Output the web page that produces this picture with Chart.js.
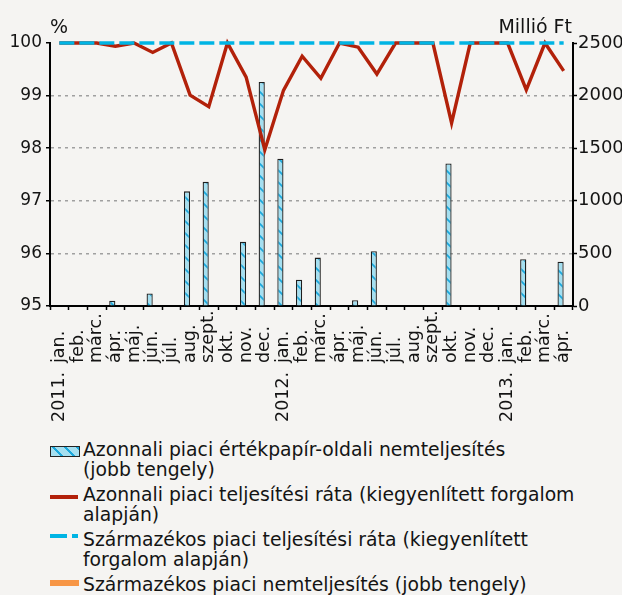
<!DOCTYPE html>
<html>
<head>
<meta charset="utf-8">
<script src="https://cdn.jsdelivr.net/npm/chart.js@4/dist/chart.umd.min.js"></script>
<style>
  html, body { margin: 0; padding: 0; background: #f5f4f2; }
  #wrap { position: relative; width: 622px; height: 595px; background: #f5f4f2; overflow: hidden; }
  #c { position: absolute; left: 0; top: 0; }
  .lg { position: absolute; left: 83px; font-family: "DejaVu Sans", sans-serif; font-size: 18.8px; line-height: 20px; color: #141414; white-space: nowrap; }
  .sw { position: absolute; }
</style>
</head>
<body>
<div id="wrap">
  <canvas id="c" width="622" height="435"></canvas>
  <div class="sw" style="left:50px;top:446px;width:28px;height:9px;border:1.5px solid #222;background:repeating-linear-gradient(45deg,#a5dff0 0px,#a5dff0 7px,#1ba8dc 7px,#1ba8dc 8.5px);"></div>
  <div class="lg" style="top:440px;">Azonnali piaci értékpapír-oldali nemteljesítés<br>(jobb tengely)</div>
  <div class="sw" style="left:50px;top:495px;width:28px;height:3.5px;background:#b2210a;"></div>
  <div class="lg" style="top:485px;">Azonnali piaci teljesítési ráta (kiegyenlített forgalom<br>alapján)</div>
  <div class="sw" style="left:50px;top:534px;width:17px;height:4px;background:#00b4e4;"></div>
  <div class="sw" style="left:72px;top:534px;width:6px;height:4px;background:#00b4e4;"></div>
  <div class="lg" style="top:530px;">Származékos piaci teljesítési ráta (kiegyenlített<br>forgalom alapján)</div>
  <div class="sw" style="left:50px;top:580px;width:29px;height:5.5px;background:#f79646;"></div>
  <div class="lg" style="top:575px;">Származékos piaci nemteljesítés (jobb tengely)</div>
</div>
<script>
// ---- data ----
const monthLabels = ['jan.','feb.','márc.','ápr.','máj.','jún.','júl.','aug.','szept.','okt.','nov.','dec.',
                     'jan.','feb.','márc.','ápr.','máj.','jún.','júl.','aug.','szept.','okt.','nov.','dec.',
                     'jan.','feb.','márc.','ápr.'];
const yearLabels = ['2011.','','','','','','','','','','','',
                    '2012.','','','','','','','','','','','',
                    '2013.','','',''];
// Azonnali piaci értékpapír-oldali nemteljesítés (millió Ft, jobb tengely)
const spotFails = [0,0,0,50,0,120,0,1090,1180,0,610,2130,
                   1400,250,460,0,55,520,0,0,0,1355,0,0,
                   0,445,0,420];
// Származékos piaci nemteljesítés (millió Ft, jobb tengely)
const derivFails = [0,0,0,0,0,0,0,0,0,0,0,0,
                    0,0,0,0,0,0,0,0,0,0,0,0,
                    0,0,0,0];
// Azonnali piaci teljesítési ráta (%)
const spotRate = [100,100,100,99.94,100,99.82,100,99.01,98.79,100,99.35,97.97,
                  99.1,99.75,99.33,100,99.92,99.41,100,100,100,98.48,100,100,
                  100,99.11,100,99.47];
// Származékos piaci teljesítési ráta (%)
const derivRate = [100,100,100,100,100,100,100,100,100,100,100,100,
                   100,100,100,100,100,100,100,100,100,100,100,100,
                   100,100,100,100];
const leftTicks = [95,96,97,98,99,100];
const rightTicks = [0,500,1000,1500,2000,2500];

const FONT = '"DejaVu Sans", sans-serif';
Chart.defaults.font.family = FONT;
Chart.defaults.color = '#141414';

// hatch pattern for bars
function makeHatch() {
  const t = document.createElement('canvas');
  t.width = 12; t.height = 12;
  const g = t.getContext('2d');
  g.fillStyle = '#a5dff0';
  g.fillRect(0, 0, 12, 12);
  g.strokeStyle = '#1ba8dc';
  g.lineWidth = 1.7;
  g.beginPath();
  g.moveTo(-2, -2); g.lineTo(14, 14);
  g.moveTo(10, -2); g.lineTo(14, 2);
  g.moveTo(-2, 10); g.lineTo(2, 14);
  g.stroke();
  return document.getElementById('c').getContext('2d').createPattern(t, 'repeat');
}

const textPlugin = {
  id: 'textPlugin',
  afterDraw(chart) {
    const ctx = chart.ctx;
    const xs = chart.scales.x;
    const bottom = chart.chartArea.bottom;
    ctx.save();
    ctx.fillStyle = '#141414';
    ctx.textBaseline = 'alphabetic';
    ctx.textAlign = 'left';
    ctx.font = '17.5px ' + FONT;
    monthLabels.forEach((m, i) => {
      const x = xs.getPixelForValue(i);
      ctx.save();
      ctx.translate(x + 4.5, bottom + 57);
      ctx.rotate(-Math.PI / 2);
      ctx.fillText(m, 0, 0);
      ctx.restore();
      if (yearLabels[i]) {
        ctx.save();
        ctx.translate(x + 4.5, bottom + 116);
        ctx.rotate(-Math.PI / 2);
        ctx.fillText(yearLabels[i], 0, 0);
        ctx.restore();
      }
    });
    ctx.font = '19px ' + FONT;
    ctx.textAlign = 'left';
    ctx.fillText('%', chart.chartArea.left, 33);
    ctx.textAlign = 'right';
    ctx.fillText('Millió Ft', chart.chartArea.right - 1, 33);
    ctx.restore();
  }
};

new Chart(document.getElementById('c'), {
  type: 'bar',
  data: {
    labels: monthLabels,
    datasets: [
      {
        type: 'line', label: 'Származékos piaci teljesítési ráta (kiegyenlített forgalom alapján)',
        data: derivRate, yAxisID: 'y', borderColor: '#00b4e4', borderWidth: 3.3,
        borderDash: [15, 5], pointRadius: 0, tension: 0, order: 0, clip: 6
      },
      {
        type: 'line', label: 'Azonnali piaci teljesítési ráta (kiegyenlített forgalom alapján)',
        data: spotRate, yAxisID: 'y', borderColor: '#b2210a', borderWidth: 3.4,
        pointRadius: 0, tension: 0, order: 1, clip: 6, borderJoinStyle: 'miter'
      },
      {
        label: 'Azonnali piaci értékpapír-oldali nemteljesítés (jobb tengely)',
        data: spotFails, yAxisID: 'y2', backgroundColor: makeHatch(),
        borderColor: '#1e1e1e', borderWidth: 1.3, order: 2,
        categoryPercentage: 0.66, barPercentage: 1.0
      },
      {
        label: 'Származékos piaci nemteljesítés (jobb tengely)',
        data: derivFails, yAxisID: 'y2', backgroundColor: '#f79646',
        borderWidth: 0, order: 3,
        categoryPercentage: 0.66, barPercentage: 1.0
      }
    ]
  },
  options: {
    responsive: false,
    animation: false,
    layout: { padding: { top: 43, left: 0, right: 0, bottom: 0 } },
    plugins: { legend: { display: false }, tooltip: { enabled: false } },
    scales: {
      x: {
        type: 'category', offset: true,
        grid: { offset: true, drawOnChartArea: false, drawTicks: true, tickLength: 4, tickColor: '#000', tickWidth: 1.5 },
        border: { display: true, color: '#000', width: 2 },
        ticks: { display: false },
        afterFit(s) { s.height = 129; }
      },
      y: {
        position: 'left', min: 95, max: 100,
        afterBuildTicks(s) { s.ticks = leftTicks.map(v => ({ value: v })); },
        ticks: { font: { size: 17 }, color: '#141414', padding: 4, callback: (v) => String(v) },
        grid: {
          color: (c) => (c.tick && (c.tick.value === 100 || c.tick.value === 95)) ? 'rgba(0,0,0,0)' : '#a0a0a0',
          lineWidth: 1.5, tickColor: '#000', tickLength: 4, tickWidth: 1.5, tickBorderDash: []
        },
        border: { display: true, color: '#000', width: 2, dash: [3, 4] },
        afterFit(s) { s.width = 50; }
      },
      y2: {
        position: 'right', min: 0, max: 2500,
        afterBuildTicks(s) { s.ticks = rightTicks.map(v => ({ value: v })); },
        ticks: { font: { size: 18 }, color: '#141414', padding: 1, callback: (v) => String(v) },
        grid: { drawOnChartArea: false, tickColor: '#000', tickLength: 4, tickWidth: 1.5 },
        border: { display: true, color: '#000', width: 2 },
        afterFit(s) { s.width = 49; }
      }
    }
  },
  plugins: [textPlugin]
});
</script>
</body>
</html>
